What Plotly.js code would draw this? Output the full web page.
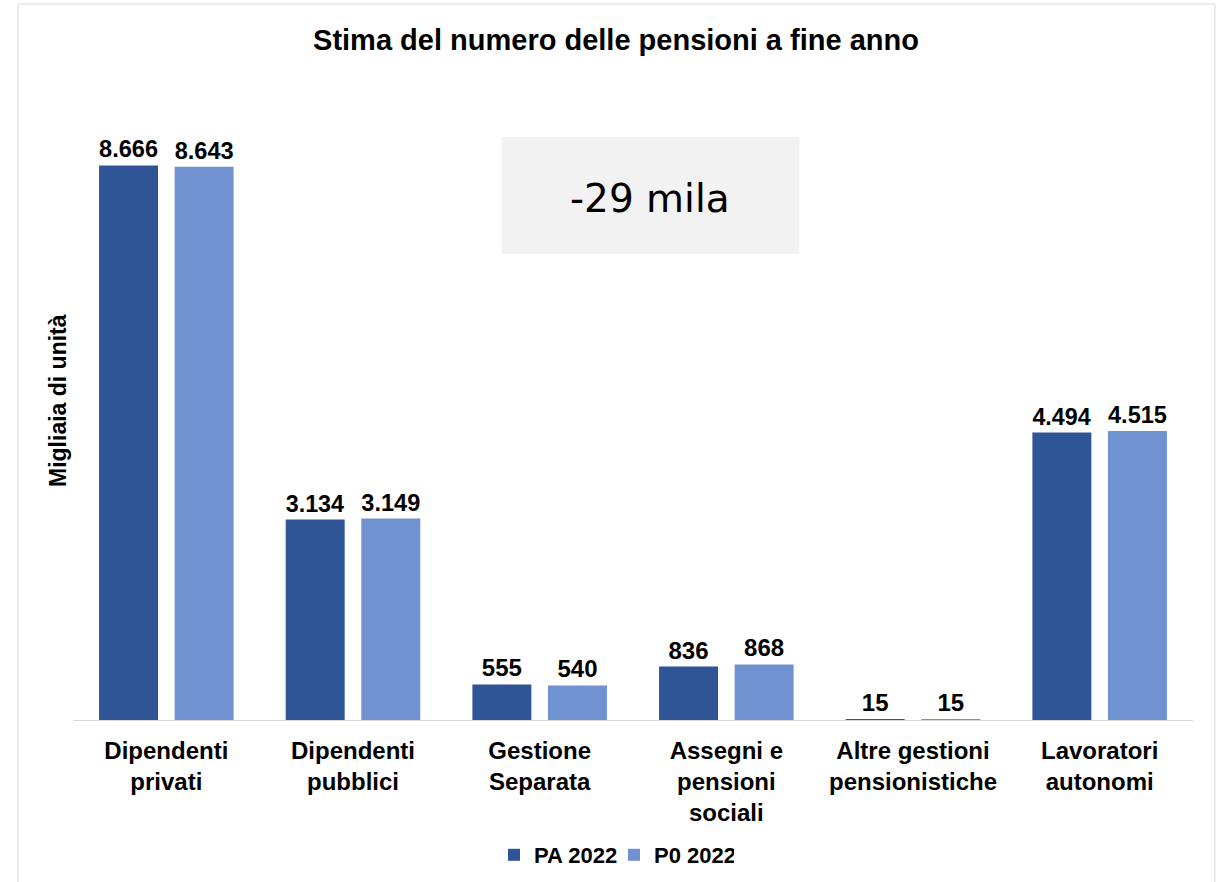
<!DOCTYPE html>
<html>
<head>
<meta charset="utf-8">
<script src="https://cdn.plot.ly/plotly-3.0.1.min.js"></script>
<style>html,body{margin:0;padding:0;background:#fff;}#chart{width:1220px;height:882px;}</style>
</head>
<body>
<div id="chart"></div>
<script>
const categories = ["Dipendenti<br>privati", "Dipendenti<br>pubblici", "Gestione<br>Separata", "Assegni e<br>pensioni<br>sociali", "Altre gestioni<br>pensionistiche", "Lavoratori<br>autonomi"];
const seriesNames = ["PA 2022", "P0 2022"];
const pa2022 = [8666, 3134, 555, 836, 15, 4494];
const p02022 = [8643, 3149, 540, 868, 15, 4515];
const boxText = "-29 mila";
const yTitle = "Migliaia di unità";

const colors = ["#2f5597", "#7092d0"];
const font = "Liberation Sans, Arial, sans-serif";

function trace(name, vals, color) {
  return {
    type: "bar", name: name, x: categories, y: vals,
    marker: {color: color},
    texttemplate: "%{y:,}", textposition: "outside", cliponaxis: false,
    textfont: {family: font, size: 24, color: "#000", weight: "bold"},
    hoverinfo: "skip"
  };
}

const data = [trace(seriesNames[0], pa2022, colors[0]), trace(seriesNames[1], p02022, colors[1])];

const layout = {
  width: 1220, height: 882,
  margin: {l: 73, r: 27, t: 80, b: 162},
  paper_bgcolor: "#fff", plot_bgcolor: "#fff",
  separators: ",.",
  barmode: "group", bargap: 0.19, bargroupgap: 0.22,
  font: {family: font, color: "#000"},
  title: {text: "Stima del numero delle pensioni a fine anno", x: 616/1220, xref: "container", xanchor: "center",
          y: 1 - 40/882, yref: "container", yanchor: "middle",
          font: {family: font, size: 29, color: "#000", weight: "bold"}},
  xaxis: {showline: true, linecolor: "#d9d9d9", linewidth: 1, ticks: "", showgrid: false, automargin: false,
          tickfont: {family: font, size: 24, color: "#000", weight: "bold"}, ticklabelstandoff: 9,
          fixedrange: true},
  yaxis: {range: [0, 10000], showgrid: false, zeroline: false, showticklabels: false, ticks: "",
          automargin: false, fixedrange: true},
  showlegend: true,
  legend: {orientation: "h", xref: "container", x: 494/1220, xanchor: "left",
           yref: "container", y: 1 - 855/882, yanchor: "middle",
           font: {family: font, size: 22, color: "#000", weight: "bold"}, itemwidth: 30,
           entrywidth: 75, traceorder: "normal"},
  shapes: [
    {type: "rect", xref: "paper", yref: "paper", x0: -0.049, x1: 1.0196, y0: -0.4, y1: 1.11875,
     line: {color: "#d9d9d9", width: 1}, fillcolor: "rgba(0,0,0,0)", layer: "below"},
    {type: "rect", xref: "paper", yref: "paper", x0: 0.3827, x1: 0.6486, y0: 0.728, y1: 0.911,
     line: {width: 0}, fillcolor: "#f2f2f2", layer: "below"}
  ],
  annotations: [
    {text: boxText, xref: "paper", yref: "paper", x: 0.5156, y: 0.8145, xanchor: "center", yanchor: "middle",
     showarrow: false, font: {family: "DejaVu Sans, Verdana, sans-serif", size: 39, color: "#000"}},
    {text: yTitle, xref: "paper", yref: "paper", x: -0.0134, y: 0.5, xanchor: "center", yanchor: "middle",
     textangle: -90, showarrow: false, font: {family: font, size: 23, color: "#000", weight: "bold"}}
  ]
};

Plotly.newPlot("chart", data, layout, {displayModeBar: false, staticPlot: true});
</script>
</body>
</html>
